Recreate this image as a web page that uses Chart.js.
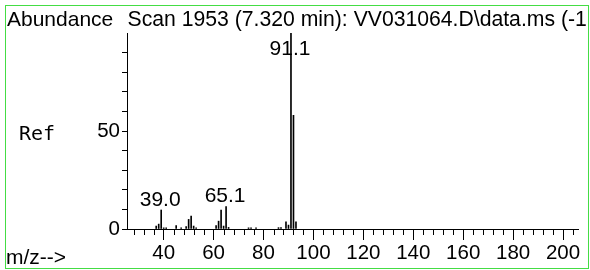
<!DOCTYPE html>
<html>
<head>
<meta charset="utf-8">
<script src="https://cdn.jsdelivr.net/npm/chart.js@4"></script>
<style>
  html, body { margin: 0; padding: 0; background: #fff; }
  #wrap { position: relative; width: 590px; height: 270px; }
</style>
</head>
<body>
<div id="wrap"><canvas id="ms-chart"></canvas></div>
<script>
// spectrum data (m/z, abundance %)
const mz = [37, 38, 39, 40, 41, 45, 47, 49, 50, 51, 52, 53, 61, 62, 63, 64, 65, 66, 74, 75, 77, 86, 87, 89, 90, 91, 92, 93];
const abundance = [1.5, 2.5, 9.7, 0.6, 0.6, 1.7, 0.6, 1.2, 4.9, 6.6, 1.5, 0.6, 1.7, 4, 9.7, 1.5, 11.5, 0.8, 0.6, 0.6, 0.6, 0.7, 0.7, 3.7, 2, 100, 58, 3.7];

// labelled peaks
const labelMz = [39, 65, 91];
const labelText = ['39.0', '65.1', '91.1'];

// axis ticks
const xTickLabels = [40, 60, 80, 100, 120, 140, 160, 180, 200];
const xMinorStep = 4;
const yTickLabels = [0, 50];
const yMinorStep = 10;

const titleText = 'Scan 1953 (7.320 min): VV031064.D\\data.ms (-1';
const SANS = "'Liberation Sans', Arial, sans-serif";

Chart.defaults.font.family = SANS;
Chart.defaults.color = '#000';

const decor = {
  id: 'decor',
  afterDraw(chart) {
    const { ctx, chartArea, scales } = chart;
    const x = scales.x, y = scales.y;
    ctx.save();

    // minor ticks on m/z axis
    ctx.strokeStyle = '#000';
    ctx.lineWidth = 1;
    ctx.beginPath();
    x.ticks.forEach(t => {
      if (xTickLabels.includes(t.value)) return;
      const px = Math.round(x.getPixelForValue(t.value)) + 0.5;
      ctx.moveTo(px, chartArea.bottom);
      ctx.lineTo(px, chartArea.bottom + 6);
    });
    ctx.stroke();

    // peak labels
    ctx.font = '21px ' + SANS;
    ctx.fillStyle = '#000';
    ctx.textAlign = 'center';
    ctx.textBaseline = 'alphabetic';
    labelMz.forEach((m, i) => {
      const val = abundance[mz.indexOf(m)];
      const px = x.getPixelForValue(m) - 1;
      const py = Math.max(y.getPixelForValue(val) - 4, chartArea.top + 22);
      ctx.fillText(labelText[i], px, py);
    });

    // header and side texts
    ctx.textAlign = 'left';
    ctx.fillText('Abundance', 7, 26);
    ctx.fillText('m/z-->', 6, 264);
    ctx.save();
    ctx.beginPath();
    ctx.rect(0, 0, 588, 270);
    ctx.clip();
    ctx.font = '21.2px ' + SANS;
    ctx.fillText(titleText, chartArea.left + 0.5, 26);
    ctx.restore();
    ctx.font = "20px 'DejaVu Sans Mono', monospace";
    ctx.fillText('Ref', 19, 140);

    // frame
    ctx.strokeStyle = '#44dd44';
    ctx.strokeRect(5.5, 5.5, 583, 263);
    ctx.restore();
  }
};

const points = mz.map((m, i) => ({ x: m, y: abundance[i] }));

new Chart(document.getElementById('ms-chart'), {
  type: 'bar',
  data: {
    datasets: [{
      data: points,
      backgroundColor: '#000',
      borderWidth: 0,
      barThickness: 1,
      grouped: false
    }]
  },
  options: {
    responsive: true,
    maintainAspectRatio: false,
    animation: false,
    layout: { padding: { left: 0, right: 12, top: 33, bottom: 0 } },
    plugins: { legend: { display: false }, tooltip: { enabled: false } },
    scales: {
      x: {
        type: 'linear',
        min: 25.3,
        max: 206,
        offset: false,
        afterBuildTicks: axis => {
          const ticks = [];
          for (let v = 28; v <= 204; v += xMinorStep) ticks.push({ value: v });
          axis.ticks = ticks;
        },
        afterFit: axis => { axis.height = 41; },
        ticks: {
          autoSkip: false,
          maxRotation: 0,
          padding: 1,
          font: { size: 20.5 },
          callback: v => xTickLabels.includes(v) ? String(v) : ''
        },
        grid: {
          offset: false,
          drawOnChartArea: false,
          tickLength: 11,
          tickColor: c => (c.tick && xTickLabels.includes(c.tick.value)) ? '#000' : 'rgba(0,0,0,0)'
        },
        border: { display: true, color: '#000', width: 1 }
      },
      y: {
        min: 0,
        max: 100,
        afterBuildTicks: axis => {
          const ticks = [];
          for (let v = 0; v <= 100; v += yMinorStep) ticks.push({ value: v });
          axis.ticks = ticks;
        },
        afterFit: axis => { axis.width = 127; },
        ticks: {
          autoSkip: false,
          padding: 2,
          font: { size: 20.5 },
          callback: v => yTickLabels.includes(v) ? String(v) : ''
        },
        grid: {
          drawOnChartArea: false,
          tickLength: 5,
          tickColor: c => (c.tick && c.tick.value === 100) ? 'rgba(0,0,0,0)' : '#000'
        },
        border: { display: true, color: '#000', width: 1 }
      }
    }
  },
  plugins: [decor]
});
</script>
</body>
</html>
